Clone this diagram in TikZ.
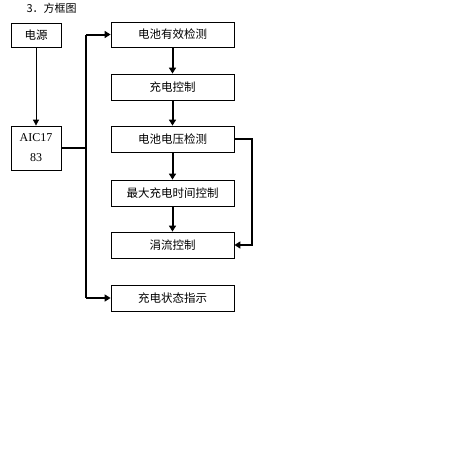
\documentclass[tikz,border=0pt]{standalone}
\usepackage{fontspec}
\setmainfont{Noto Sans CJK SC}
\newfontfamily\latinserif{Liberation Serif}
\usetikzlibrary{arrows.meta}
\begin{document}
\begin{tikzpicture}[x=1pt,y=-1pt,
  box/.style={draw,line width=0.8pt,rectangle,inner sep=0pt,minimum width=123pt,minimum height=26pt,font=\fontsize{11.5}{13}\selectfont},
  lbox/.style={draw,line width=0.8pt,rectangle,inner sep=0pt,minimum width=50pt,font=\fontsize{11.5}{13}\selectfont},
  thinarr/.style={line width=0.8pt,-{Triangle[length=6pt,width=6pt]}},
  thickarr/.style={line width=2pt,-{Triangle[length=6pt,width=7pt]}},
  thickln/.style={line width=2pt}]
\useasboundingbox (0,0) rectangle (468,458);
\node[anchor=west,font=\fontsize{11}{13}\selectfont] (title) at (23,8) {3．方框图};
\node[lbox,minimum height=24pt] (psu) at (36,35) {电源};
\node[lbox,minimum height=44pt,align=center,font=\latinserif\fontsize{12}{20}\selectfont] (aic) at (36,148) {AIC17\\83};
\node[box,minimum height=25pt] (b1) at (172.5,34.5) {电池有效检测};
\node[box] (b2) at (172.5,87) {充电控制};
\node[box] (b3) at (172.5,139) {电池电压检测};
\node[box] (b4) at (172.5,193) {最大充电时间控制};
\node[box] (b5) at (172.5,245) {涓流控制};
\node[box] (b6) at (172.5,298) {充电状态指示};
\coordinate (busT) at (86,34.5);
\coordinate (busM) at (86,148);
\coordinate (busB) at (86,298);
\coordinate (loopR) at (252,139);
\draw[thinarr] (psu) -- (aic);
\draw[thickln] (aic.east) -- (busM);
\draw[thickln] (busT) -- (busB);
\draw[thickarr] (busT) -- (b1.west);
\draw[thickarr] (busB) -- (b6.west);
\draw[thickarr] (b1) -- (b2);
\draw[thickarr] (b2) -- (b3);
\draw[thickarr] (b3) -- (b4);
\draw[thickarr] (b4) -- (b5);
\draw[thickarr] (b3.east) -- (loopR) |- (b5.east);
\end{tikzpicture}
\end{document}
